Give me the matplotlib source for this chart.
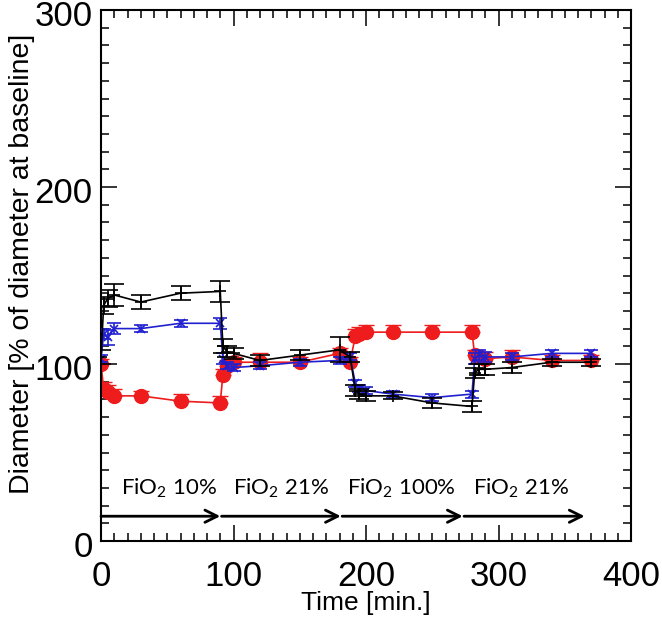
import numpy as np
import matplotlib.pyplot as plt
import matplotlib.transforms as mtransforms
from matplotlib.ticker import MultipleLocator

plt.rcParams['font.family'] = ['Liberation Sans', 'DejaVu Sans']
plt.rcParams['mathtext.default'] = 'regular'

# time points [min.]
time = [0, 2, 5, 10, 30, 60, 90, 92, 95, 100, 120, 150, 180,
        188, 192, 195, 200, 220, 250, 280, 282, 285, 290, 310, 340, 370]

# diameter [% of baseline]
black_y = [104, 133, 137, 139, 135, 140, 141, 110, 107, 106, 102, 105, 108,
           104, 85, 83, 82, 82, 78, 76, 95, 97, 97, 98, 101, 101]
black_err = [4, 5, 5, 6, 4, 4, 6, 4, 3, 3, 3, 3, 7,
             3, 3, 3, 3, 2, 3, 3, 3, 3, 3, 3, 2, 2]

blue_y = [103, 117, 115, 120, 120, 123, 123, 103, 99, 98, 99, 101, 102,
          104, 89, 86, 85, 83, 81, 83, 103, 105, 104, 104, 106, 106]
blue_err = [2, 3, 4, 3, 2, 2, 3, 3, 2, 2, 2, 2, 2,
            2, 2, 2, 2, 2, 2, 2, 3, 3, 3, 2, 2, 2]

red_y = [100, 86, 84, 82, 82, 79, 78, 94, 99, 101, 101, 101, 106,
         101, 116, 117, 118, 118, 118, 118, 105, 104, 103, 104, 102, 102]
red_err = [3, 4, 4, 4, 3, 4, 4, 3, 3, 3, 5, 3, 3,
           3, 4, 4, 4, 4, 4, 4, 3, 3, 4, 4, 3, 3]

phase_labels = ['FiO$_2$ 10%', 'FiO$_2$ 21%', 'FiO$_2$ 100%', 'FiO$_2$ 21%']
phase_start = [0, 91, 182, 274]
phase_end = [90, 181, 273, 365]
label_x = [51, 136, 227, 317]

fig = plt.figure(figsize=(6.62, 6.21), dpi=100)
ax = fig.add_axes([101 / 662, 80 / 621, 530 / 662, 531 / 621])

ax.errorbar(time, red_y, yerr=[np.zeros(len(red_err)), red_err], color='#ee1c1c',
            marker='o', ms=10, lw=1.2, capsize=6, elinewidth=1.2, zorder=2)
ax.errorbar(time, blue_y, yerr=blue_err, color='#2020d0', marker='x', ms=6,
            mew=1.2, lw=1.2, capsize=5, elinewidth=1.2, zorder=3)
ax.errorbar(time, black_y, yerr=black_err, color='black', marker='+', ms=8,
            mew=1.2, lw=1.2, capsize=7, elinewidth=1.2, zorder=4)

for s, e, lx, lab in zip(phase_start, phase_end, label_x, phase_labels):
    ax.annotate('', xy=(e, 14), xytext=(s, 14),
                arrowprops=dict(arrowstyle='->', lw=2, color='black',
                                mutation_scale=22, shrinkA=0, shrinkB=0))
    ax.text(lx, 30, lab, ha='center', va='center', fontsize=16, family=['Lato', 'DejaVu Sans'])

ax.set_xlim(0, 400)
ax.set_ylim(0, 300)
ax.xaxis.set_major_locator(MultipleLocator(100))
ax.xaxis.set_minor_locator(MultipleLocator(10))
ax.yaxis.set_major_locator(MultipleLocator(100))
ax.yaxis.set_minor_locator(MultipleLocator(10))
ax.tick_params(which='both', direction='in', top=True, right=True, width=1.1)
ax.tick_params(which='major', length=11.5, labelsize=25)
ax.tick_params(which='minor', length=6)
ax.tick_params(axis='x', pad=14)
ax.tick_params(axis='y', pad=6)
for sp in ax.spines.values():
    sp.set_linewidth(1.5)

# y tick labels sit a little below their ticks
shift = mtransforms.ScaledTranslation(0, -3 / 100, fig.dpi_scale_trans)
for lbl in ax.get_yticklabels():
    lbl.set_transform(lbl.get_transform() + shift)

ax.set_xlabel('Time [min.]', fontsize=19)
ax.set_ylabel('Diameter [% of diameter at baseline]', fontsize=20.5)
ax.xaxis.set_label_coords(0.5, -0.095)
ax.yaxis.set_label_coords(-0.125, 0.522)

fig.savefig('out.png', dpi=100)
